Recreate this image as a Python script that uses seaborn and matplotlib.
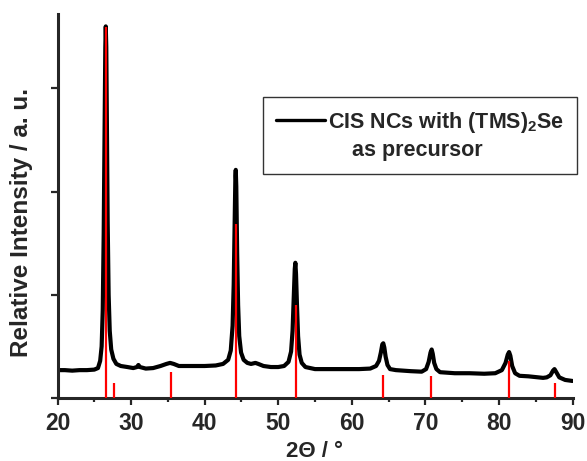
import numpy as np
import pandas as pd
import matplotlib
matplotlib.use("Agg")
import matplotlib.pyplot as plt
import seaborn as sns
from matplotlib.lines import Line2D
from matplotlib.ticker import MultipleLocator

two_theta = [20.0, 21.0, 22.0, 23.0, 24.0, 25.0, 25.5, 25.8, 26.0, 26.15, 26.28, 26.4,
             26.5, 26.56, 26.63, 26.72, 26.82, 26.95, 27.1, 27.3, 27.6, 28.0, 28.6, 29.5,
             30.3, 30.8, 31.0, 31.2, 32.0, 33.0, 34.0, 34.8, 35.3, 35.8, 36.5, 38.0,
             40.0, 41.5, 42.5, 43.2, 43.55, 43.8, 43.95, 44.08, 44.18, 44.23, 44.3, 44.42,
             44.55, 44.7, 44.95, 45.3, 45.8, 46.3, 46.9, 47.3, 48.0, 49.0, 50.0, 50.8,
             51.4, 51.75, 51.95, 52.1, 52.25, 52.33, 52.42, 52.55, 52.7, 52.9, 53.2, 53.7,
             55.0, 57.0, 59.0, 61.0, 62.5, 63.3, 63.7, 63.95, 64.15, 64.28, 64.42, 64.6,
             64.85, 65.2, 66.0, 68.0, 69.5, 70.1, 70.45, 70.7, 70.86, 71.0, 71.2, 71.5,
             72.0, 74.0, 76.0, 78.0, 79.5, 80.4, 80.9, 81.2, 81.38, 81.55, 81.8, 82.2,
             82.8, 84.0, 86.0, 86.5, 87.0, 87.35, 87.55, 87.8, 88.2, 89.0, 90.0]
intensity = [0.27, 0.27, 0.265, 0.27, 0.27, 0.275, 0.29, 0.36, 0.50, 0.85, 1.6, 2.6,
             3.4, 3.60, 3.4, 2.6, 1.7, 1.0, 0.65, 0.47, 0.38, 0.33, 0.31, 0.30,
             0.29, 0.30, 0.32, 0.30, 0.285, 0.29, 0.31, 0.33, 0.34, 0.33, 0.31, 0.31,
             0.31, 0.315, 0.33, 0.37, 0.46, 0.7, 1.1, 1.7, 2.15, 2.21, 2.05, 1.4,
             0.9, 0.6, 0.44, 0.37, 0.34, 0.33, 0.34, 0.33, 0.31, 0.30, 0.30, 0.31,
             0.35, 0.45, 0.65, 0.95, 1.25, 1.31, 1.2, 0.9, 0.6, 0.42, 0.34, 0.30,
             0.28, 0.28, 0.28, 0.28, 0.285, 0.31, 0.36, 0.44, 0.52, 0.53, 0.49, 0.40,
             0.32, 0.28, 0.27, 0.26, 0.255, 0.28, 0.35, 0.44, 0.47, 0.43, 0.34, 0.28,
             0.25, 0.24, 0.24, 0.235, 0.24, 0.27, 0.34, 0.42, 0.445, 0.41, 0.31, 0.24,
             0.215, 0.21, 0.195, 0.20, 0.22, 0.265, 0.28, 0.25, 0.20, 0.175, 0.165]

# reference stick pattern
ref_pos = [26.55, 27.7, 35.45, 44.2, 52.35, 64.3, 70.8, 81.4, 87.6]
ref_int = [3.59, 0.145, 0.25, 1.69, 0.90, 0.22, 0.21, 0.36, 0.145]

df = pd.DataFrame({"2theta": two_theta, "I": intensity})

sns.set_style("ticks")
plt.rcParams["font.family"] = ["Liberation Sans", "DejaVu Sans"]
plt.rcParams["font.weight"] = "bold"
plt.rcParams["mathtext.fontset"] = "custom"
plt.rcParams["mathtext.rm"] = "Liberation Sans:bold"
plt.rcParams["mathtext.it"] = "Liberation Sans:bold"
plt.rcParams["mathtext.bf"] = "Liberation Sans:bold"
plt.rcParams["mathtext.default"] = "regular"

fig = plt.figure(figsize=(5.87, 4.61), dpi=100)
ax = fig.add_axes([57.5 / 587, 63 / 461, (572.5 - 57.5) / 587, (398 - 14) / 461])

ax.vlines(ref_pos, 0, ref_int, color="red", linewidth=1.6, zorder=3)
sns.lineplot(data=df, x="2theta", y="I", ax=ax, color="black", linewidth=3.0,
             label="CIS NCs with (TMS)$_{2}$Se", zorder=2)

ax.set_xlim(20, 90)
ax.set_ylim(0, 3.72)
ax.xaxis.set_major_locator(MultipleLocator(10))
ax.xaxis.set_minor_locator(MultipleLocator(5))
ax.set_yticks([0, 1, 2, 3])
ax.set_yticklabels([])
ax.tick_params(axis="x", which="major", length=5, width=1.6, labelsize=16.5, pad=5)
ax.tick_params(axis="x", which="minor", length=3, width=1.6)
ax.tick_params(axis="y", which="major", length=5, width=1.6)
for lab in ax.get_xticklabels():
    lab.set_fontweight("bold")

sns.despine(ax=ax)
for s in ["left", "bottom"]:
    ax.spines[s].set_linewidth(2.2)

ax.set_xlabel("2\u0398 / \u00b0", fontsize=16, fontweight="bold")
ax.set_ylabel("Relative Intensity / a. u.", fontsize=17.5, fontweight="bold")
ax.xaxis.set_label_coords(0.5, -0.112)
ax.yaxis.set_label_coords(-0.047, 0.458)

handles, labels = ax.get_legend_handles_labels()
handles.append(Line2D([], [], linestyle="none"))
labels.append("    as precursor")
leg = ax.legend(handles, labels, loc="upper left", bbox_to_anchor=(263 / 587, 1 - 97 / 461),
                bbox_transform=fig.transFigure, frameon=True, fancybox=False,
                borderaxespad=0, fontsize=15.5, handlelength=2.3, handletextpad=0.1,
                borderpad=0.6, labelspacing=0.25)
leg.get_frame().set_edgecolor("black")
leg.get_frame().set_linewidth(1.0)
leg.get_lines()[0].set_linewidth(2.4)
for t in leg.get_texts():
    t.set_fontweight("bold")

fig.savefig("out.png", dpi=100)
